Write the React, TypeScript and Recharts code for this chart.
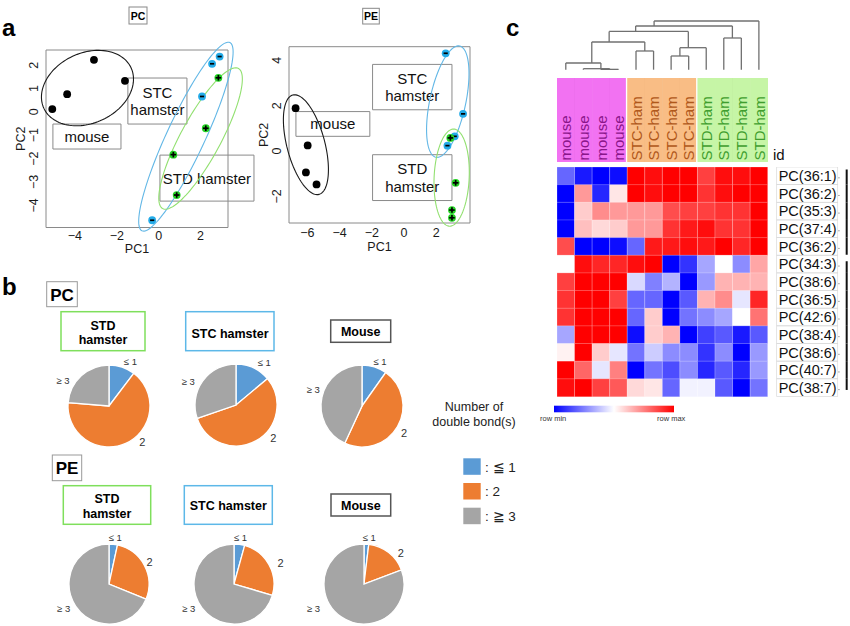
import React from 'react';
import * as RC from 'recharts';

const {
  ScatterChart, Scatter, XAxis, YAxis, ReferenceArea, ReferenceLine,
  PieChart, Pie, Cell, BarChart, Bar,
} = RC as any;

const usePlotAreaSafe: () => any = (RC as any).usePlotArea || (() => null);

const FONT = '"Liberation Sans", Arial, Helvetica, sans-serif';

// ---------------- Panel a : PCA score plots ----------------
const PC_MOUSE = [[-5.08, 0.12], [-4.37, 0.76], [-3.09, 2.23], [-1.61, 1.33]];
const PC_STC = [[2.91, 2.37], [2.55, 2.06], [2.07, 0.66], [-0.31, -4.64]];
const PC_STD = [[2.85, 1.46], [2.25, -0.7], [0.7, -1.83], [0.86, -3.56]];

const PE_MOUSE = [[-6.73, 1.89], [-5.98, 0.25], [-6.09, -0.94], [-5.43, -1.47]];
const PE_STC = [[2.59, 4.31], [3.67, 1.64], [3.15, 0.65], [2.7, 0.24]];
const PE_STD = [[2.88, 0.58], [3.21, -1.4], [2.98, -2.6], [2.98, -2.94]];

// ellipse: centre x, centre y, half-axis u (x,y), half-axis v (x,y) in data units
const PC_ELLIPSE_MOUSE = [-3.4, 1.02, 2.08, 0.87, 0.71, -1.36];
const PC_ELLIPSE_STC = [1.3, -1.06, 2.1, 4.03, 0.82, -0.35];
const PC_ELLIPSE_STD = [2.0, -1.14, 1.81, 3.0, 0.84, -0.41];
const PE_ELLIPSE_MOUSE = [-6.09, 0.28, -0.81, 2.19, 1.14, 0.21];
const PE_ELLIPSE_STC = [2.72, 2.18, 0.74, 2.45, 1.09, -0.17];
const PE_ELLIPSE_STD = [2.96, -1.17, 0.12, 2.14, 1.09, 0];

// legend boxes: x1, x2, y1, y2 (data units) and text lines
const PC_BOXES = [
  { r: [-1.47, 1.35, 1.45, -0.52], lines: ['STC', 'hamster'] },
  { r: [-5.05, -1.8, -0.52, -1.59], lines: ['mouse'] },
  { r: [0.06, 4.55, -1.85, -3.82], lines: ['STD hamster'] },
];
const PE_BOXES = [
  { r: [-1.95, 2.98, 3.82, 1.82], lines: ['STC', 'hamster'] },
  { r: [-6.71, -2.12, 1.74, 0.65], lines: ['mouse'] },
  { r: [-1.95, 2.98, -0.16, -2.18], lines: ['STD', 'hamster'] },
];

const PC_X_TICKS = [-4, -2, 0, 2];
const PC_Y_TICKS = [-4, -3, -2, -1, 0, 1, 2];
const PE_X_TICKS = [-6, -4, -2, 0, 2];
const PE_Y_TICKS = [-2, 0, 2, 4];

// ---------------- Panel b : pies ----------------
const DB_CLASSES = ['\u2264 1', '2', '\u2265 3'];
const DB_LEGEND = [': \u2266 1', ': 2', ': \u2267 3'];
const DB_COLORS = ['#5b9bd5', '#ed7d31', '#a5a5a5'];

const PC_STD_PIE = [10.3, 66.0, 23.7];
const PC_STC_PIE = [13.9, 55.8, 30.3];
const PC_MOUSE_PIE = [9.8, 47.1, 43.1];
const PE_STD_PIE = [3.4, 27.8, 68.8];
const PE_STC_PIE = [4.3, 25.3, 70.4];
const PE_MOUSE_PIE = [1.9, 17.4, 80.7];

// ---------------- Panel c : heatmap ----------------
const COL_LABELS = ['mouse', 'mouse', 'mouse', 'mouse', 'STC-ham', 'STC-ham', 'STC-ham', 'STC-ham', 'STD-ham', 'STD-ham', 'STD-ham', 'STD-ham'];
const COL_GROUPS = [0, 0, 0, 0, 1, 1, 1, 1, 2, 2, 2, 2];
const GROUP_FILL = ['#f272f2', '#f9bd85', '#c6f5a6'];
const GROUP_TEXT = ['#8a168a', '#b0581a', '#3f9e2e'];

const ROW_LABELS = ['PC(36:1)', 'PC(36:2)', 'PC(35:3)', 'PC(37:4)', 'PC(36:2)', 'PC(34:3)', 'PC(38:6)', 'PC(36:5)', 'PC(42:6)', 'PC(38:4)', 'PC(38:6)', 'PC(40:7)', 'PC(38:7)'];
const ROW_GROUPS = [0, 0, 0, 0, 0, 1, 1, 1, 1, 1, 1, 1, 1];
const HEAT_VALUES = [
  [-0.6, -0.9, -1, -0.95, 1, 0.95, 1, 1, 0.75, 0.95, 0.95, 1],
  [-1, 0.4, -0.85, 0.1, 1, 0.95, 1, 1, 0.8, 0.95, 1, 1],
  [-1, 0.2, 0.45, 0.4, 0.4, 0.4, 0.7, 0.75, 0.75, 0.8, 0.8, 1],
  [-1, 0.25, 0.15, 0.2, 0.4, 0.4, 0.8, 0.9, 0.95, 0.8, 0.8, 1],
  [0.7, -1, -1, -0.95, -0.6, 0.9, 0.9, 0.95, 0.9, 1, 0.85, 1],
  [0, 0.95, 0.85, 0.85, 0.95, 1, -1, -0.8, -0.35, 0, -0.45, 0.35],
  [0.75, 1, 1, 1, -0.15, -0.5, -0.3, -1, -0.4, 0.3, 0.3, 0.3],
  [0.8, 1, 1, 0.75, -0.6, -0.6, -1, -0.65, 0.3, 0.45, -0.1, 0.85],
  [0.8, 1, 1, 1, -0.6, 0.2, -1, -0.55, -0.45, -0.35, 0, 0.55],
  [-0.35, 1, 1, 1, -0.95, 0.2, 0.3, -1, -0.75, -0.65, -0.9, -0.65],
  [0.05, 1, 0.2, -0.1, -0.55, -0.2, -0.45, -0.45, -0.8, -0.45, -1, -0.4],
  [1, 0.6, -0.1, 0.5, -1, -0.55, -0.7, -0.45, -0.85, -0.65, -0.85, -0.4],
  [0.95, 1, 0.75, 0.65, 0.15, 0.1, -0.6, -0.05, -0.05, -0.65, -1, -0.55],
];

// dendrogram merges: kids (leaf index or node id), height, drawn x (leaf units)
const DENDRO_NODES: { id: string; kids: (number | string)[]; h: number; x: number }[] = [
  { id: 'A1', kids: [2, 3], h: 0.33, x: 2.5 },
  { id: 'A', kids: [1, 'A1'], h: 1.0, x: 2.0 },
  { id: 'B', kids: [0, 'A'], h: 6.7, x: 1.48 },
  { id: 'C', kids: [4, 5], h: 18.7, x: 4.5 },
  { id: 'D', kids: ['B', 'C'], h: 27.7, x: 2.47 },
  { id: 'E', kids: [6, 7], h: 13.7, x: 6.5 },
  { id: 'F', kids: ['E', 8], h: 22.0, x: 6.98 },
  { id: 'G', kids: ['D', 'F'], h: 38.3, x: 3.98 },
  { id: 'H', kids: [9, 10], h: 31.7, x: 9.49 },
  { id: 'I', kids: ['G', 'H'], h: 43.7, x: 5.03 },
  { id: 'J', kids: ['I', 11], h: 48.7, x: 8.0 },
];
const DENDRO_MAX = 48.7;

// ---------------- helpers ----------------
const Y_AXIS_W = 46;
const X_AXIS_H = 28;

function fmtTick(v: number) {
  return v < 0 ? '\u2212' + Math.abs(v) : String(v);
}

function heatColor(v: number) {
  const t = Math.max(-1, Math.min(1, v));
  if (t >= 0) {
    const g = Math.round(255 * (1 - t));
    return `rgb(255,${g},${g})`;
  }
  const g = Math.round(255 * (1 + t));
  return `rgb(${g},${g},255)`;
}

type Kind = 'mouse' | 'stc' | 'std';
const POINT_FILL: Record<Kind, string> = { mouse: '#000000', stc: '#23abe8', std: '#25d325' };
const ELLIPSE_STROKE: Record<Kind, string> = { mouse: '#1a1a1a', stc: '#62b7e6', std: '#92e070' };

function PointMark(props: any) {
  const { cx, cy, kind } = props;
  if (cx == null || cy == null) return null;
  const r = 3.9;
  if (kind === 'mouse') return <circle cx={cx} cy={cy} r={r} fill={POINT_FILL.mouse} />;
  if (kind === 'stc')
    return (
      <g>
        <circle cx={cx} cy={cy} r={r} fill={POINT_FILL.stc} />
        <line x1={cx - 2.1} x2={cx + 2.1} y1={cy} y2={cy} stroke="#000" strokeWidth={1.7} />
      </g>
    );
  return (
    <g>
      <circle cx={cx} cy={cy} r={r} fill={POINT_FILL.std} />
      <line x1={cx - 2.8} x2={cx + 2.8} y1={cy} y2={cy} stroke="#000" strokeWidth={1.7} />
      <line x1={cx} x2={cx} y1={cy - 2.8} y2={cy + 2.8} stroke="#000" strokeWidth={1.7} />
    </g>
  );
}

function EllipseMark(props: any) {
  const pa = usePlotAreaSafe();
  const { cx, cy, ctx, kind } = props;
  const payload = props.payload || props;
  if (cx == null || cy == null) return null;
  const pw = pa && pa.width ? pa.width : ctx.plotW;
  const ph = pa && pa.height ? pa.height : ctx.plotH;
  const sx = pw / (ctx.xDomain[1] - ctx.xDomain[0]);
  const sy = ph / (ctx.yDomain[1] - ctx.yDomain[0]);
  const { ux, uy, vx, vy } = payload;
  let d = '';
  for (let i = 0; i <= 120; i++) {
    const t = (i / 120) * Math.PI * 2;
    const c = Math.cos(t);
    const s = Math.sin(t);
    const px = cx + sx * (ux * c + vx * s);
    const py = cy - sy * (uy * c + vy * s);
    d += (i === 0 ? 'M' : 'L') + px.toFixed(2) + ',' + py.toFixed(2);
  }
  return <path d={d + 'Z'} fill="none" stroke={ELLIPSE_STROKE[kind as Kind]} strokeWidth={1.1} />;
}

type PcaCfg = {
  width: number;
  height: number;
  margin: { top: number; right: number; bottom: number; left: number };
  xDomain: number[];
  yDomain: number[];
  xTicks: number[];
  yTicks: number[];
  xTickDy: number;
  xLabelDy: number;
  groups: { kind: Kind; pts: number[][]; ell: number[] }[];
  boxes: { r: number[]; lines: string[] }[];
};

const PC_CFG: PcaCfg = {
  width: 262,
  height: 264.5,
  margin: { top: 50, right: 34, bottom: 9, left: 0 },
  xDomain: [-5.38, 3.31],
  yDomain: [-4.95, 2.65],
  xTicks: PC_X_TICKS,
  yTicks: PC_Y_TICKS,
  xTickDy: 8.5,
  xLabelDy: 21.5,
  groups: [
    { kind: 'mouse', pts: PC_MOUSE, ell: PC_ELLIPSE_MOUSE },
    { kind: 'stc', pts: PC_STC, ell: PC_ELLIPSE_STC },
    { kind: 'std', pts: PC_STD, ell: PC_ELLIPSE_STD },
  ],
  boxes: PC_BOXES,
};

const PE_CFG: PcaCfg = {
  width: 237,
  height: 261,
  margin: { top: 46.7, right: 10, bottom: 10, left: 0 },
  xDomain: [-7.14, 4.1],
  yDomain: [-3.17, 4.6],
  xTicks: PE_X_TICKS,
  yTicks: PE_Y_TICKS,
  xTickDy: 10,
  xLabelDy: 23.7,
  groups: [
    { kind: 'mouse', pts: PE_MOUSE, ell: PE_ELLIPSE_MOUSE },
    { kind: 'stc', pts: PE_STC, ell: PE_ELLIPSE_STC },
    { kind: 'std', pts: PE_STD, ell: PE_ELLIPSE_STD },
  ],
  boxes: PE_BOXES,
};

function frameLabel(p: any, cfg: PcaCfg) {
  const vb = p.viewBox || p;
  const cxm = vb.x + vb.width / 2;
  const cym = vb.y + vb.height / 2;
  return (
    <g>
      <text x={cxm} y={vb.y + vb.height + cfg.xLabelDy} dy="0.35em" textAnchor="middle" fontSize={12.5} fill="#1a1a1a">
        PC1
      </text>
      <text transform={`translate(${vb.x - 25},${cym}) rotate(-90)`} dy="0.35em" textAnchor="middle" fontSize={12.5} fill="#1a1a1a">
        PC2
      </text>
    </g>
  );
}

function boxLabel(p: any, lines: string[]) {
  const vb = p.viewBox || p;
  const cxm = vb.x + vb.width / 2;
  const cym = vb.y + vb.height / 2;
  const lh = 17.4;
  return (
    <text textAnchor="middle" fontSize={15} fill="#111">
      {lines.map((ln, i) => (
        <tspan key={i} x={cxm} y={cym + (i - (lines.length - 1) / 2) * lh + 5.5}>
          {ln}
        </tspan>
      ))}
    </text>
  );
}

function PcaChart({ cfg }: { cfg: PcaCfg }) {
  const plotW = cfg.width - cfg.margin.left - cfg.margin.right - Y_AXIS_W;
  const plotH = cfg.height - cfg.margin.top - cfg.margin.bottom - X_AXIS_H;
  const ctx = { ...cfg, plotW, plotH };
  return (
    <ScatterChart width={cfg.width} height={cfg.height} margin={cfg.margin}>
      <XAxis
        type="number"
        dataKey="x"
        domain={cfg.xDomain}
        ticks={cfg.xTicks}
        interval={0}
        height={X_AXIS_H}
        axisLine={false}
        tickLine={false}
        tickSize={0}
        tickMargin={0}
        tick={(p: any) => (
          <text x={p.x} y={p.y + cfg.xTickDy} dy="0.35em" textAnchor="middle" fontSize={12.5} fill="#1a1a1a">
            {fmtTick(p.payload.value)}
          </text>
        )}
      />
      <YAxis
        type="number"
        dataKey="y"
        domain={cfg.yDomain}
        ticks={cfg.yTicks}
        interval={0}
        width={Y_AXIS_W}
        axisLine={false}
        tickLine={false}
        tickSize={0}
        tickMargin={0}
        tick={(p: any) => (
          <text transform={`translate(${p.x - 12},${p.y}) rotate(-90)`} dy="0.35em" textAnchor="middle" fontSize={12.5} fill="#1a1a1a">
            {fmtTick(p.payload.value)}
          </text>
        )}
      />
      <ReferenceArea
        x1={cfg.xDomain[0]}
        x2={cfg.xDomain[1]}
        y1={cfg.yDomain[0]}
        y2={cfg.yDomain[1]}
        ifOverflow="visible"
        fill="#ffffff"
        fillOpacity={0}
        stroke="#8a8a8a"
        strokeWidth={1}
        strokeOpacity={1}
        label={(p: any) => frameLabel(p, cfg)}
      />
      {cfg.boxes.map((b, i) => (
        <ReferenceArea
          key={'box' + i}
          x1={b.r[0]}
          x2={b.r[1]}
          y1={b.r[2]}
          y2={b.r[3]}
          ifOverflow="visible"
          fill="#ffffff"
          fillOpacity={0}
          stroke="#8a8a8a"
          strokeWidth={1}
          strokeOpacity={1}
          label={(p: any) => boxLabel(p, b.lines)}
        />
      ))}
      {cfg.groups.map((g) => (
        <Scatter
          key={'ell' + g.kind}
          data={[{ x: g.ell[0], y: g.ell[1], ux: g.ell[2], uy: g.ell[3], vx: g.ell[4], vy: g.ell[5] }]}
          isAnimationActive={false}
          shape={(p: any) => <EllipseMark {...p} ctx={ctx} kind={g.kind} />}
        />
      ))}
      {cfg.groups.map((g) => (
        <Scatter
          key={'pts' + g.kind}
          data={g.pts.map(([x, y]) => ({ x, y }))}
          isAnimationActive={false}
          shape={(p: any) => <PointMark {...p} kind={g.kind} />}
        />
      ))}
    </ScatterChart>
  );
}

// ---------------- pies ----------------
// la: label direction (degrees clockwise from 12 o'clock), ld: label distance from centre
function makePieLabel(la: number[], ld: number[]) {
  return (p: any) => {
    const i = p.index;
    const a = la[i] * (Math.PI / 180);
    const label = DB_CLASSES[i];
    return (
      <text
        x={p.cx + ld[i] * Math.sin(a)}
        y={p.cy - ld[i] * Math.cos(a)}
        dy="0.35em"
        textAnchor="middle"
        fontSize={label.length > 1 ? 9.5 : 11}
        fill="#333"
      >
        {label}
      </text>
    );
  };
}

function PieBlock({ values, cx, cy, r, la, ld }: { values: number[]; cx: number; cy: number; r: number; la: number[]; ld: number[] }) {
  const data = values.map((v, i) => ({ name: DB_CLASSES[i], v }));
  return (
    <div style={{ position: 'absolute', left: cx - 70, top: cy - 65 }}>
      <PieChart width={140} height={130} margin={{ top: 0, right: 0, bottom: 0, left: 0 }}>
        <Pie
          data={data}
          dataKey="v"
          nameKey="name"
          cx={70}
          cy={65}
          outerRadius={r}
          innerRadius={0}
          startAngle={90}
          endAngle={-270}
          stroke="#ffffff"
          strokeWidth={1.3}
          label={makePieLabel(la, ld)}
          labelLine={false}
          isAnimationActive={false}
        >
          {data.map((_, i) => (
            <Cell key={i} fill={DB_COLORS[i]} />
          ))}
        </Pie>
      </PieChart>
    </div>
  );
}

const PIES = [
  { values: PC_STD_PIE, cx: 109.3, cy: 406, r: 41, la: [25.8, 137, 298.8], ld: [49.2, 48.9, 52.5] },
  { values: PC_STC_PIE, cx: 236, cy: 404.5, r: 41, la: [33.5, 131.3, 296.5], ld: [51.3, 49.7, 53.3] },
  { values: PC_MOUSE_PIE, cx: 362, cy: 405.5, r: 41, la: [22.3, 122.9, 288.4], ld: [47.4, 50, 51.3] },
  { values: PE_STD_PIE, cx: 108.7, cy: 584, r: 40, la: [7.7, 61.2, 241.8], ld: [47.1, 46.3, 51.5] },
  { values: PE_STC_PIE, cx: 234.2, cy: 584, r: 40, la: [7.9, 66, 241.7], ld: [47.2, 50.9, 51.3] },
  { values: PE_MOUSE_PIE, cx: 363.8, cy: 584, r: 40, la: [6.4, 50.2, 244.3], ld: [47, 48, 56] },
];

// ---------------- heatmap parts ----------------
const HM_PLOT_W = 210.7;
const HM_ROW_H = 17.65;

function Dendrogram() {
  const nodeMap: Record<string, { x: number; h: number }> = {};
  DENDRO_NODES.forEach((n) => (nodeMap[n.id] = { x: n.x, h: n.h }));
  const pos = (k: number | string) => (typeof k === 'number' ? { x: k, h: 0 } : nodeMap[k]);
  const segs: { x1: number; y1: number; x2: number; y2: number }[] = [];
  DENDRO_NODES.forEach((n) => {
    const a = pos(n.kids[0]);
    const b = pos(n.kids[1]);
    segs.push({ x1: a.x, y1: n.h, x2: b.x, y2: n.h });
    segs.push({ x1: a.x, y1: a.h, x2: a.x, y2: n.h });
    segs.push({ x1: b.x, y1: b.h, x2: b.x, y2: n.h });
  });
  const leaves = COL_LABELS.map((_, i) => ({ x: i, y: 0 }));
  return (
    <ScatterChart width={HM_PLOT_W} height={DENDRO_MAX + 3} margin={{ top: 2, right: 0, bottom: 1, left: 0 }}>
      <XAxis type="number" dataKey="x" domain={[-0.5, COL_LABELS.length - 0.5]} hide />
      <YAxis type="number" dataKey="y" domain={[0, DENDRO_MAX]} hide />
      <Scatter data={leaves} isAnimationActive={false} shape={() => <g />} />
      {segs.map((s, i) => (
        <ReferenceLine
          key={i}
          segment={[{ x: s.x1, y: s.y1 }, { x: s.x2, y: s.y2 }]}
          stroke="#707070"
          strokeWidth={1.3}
          ifOverflow="visible"
        />
      ))}
    </ScatterChart>
  );
}

function HeaderBand() {
  const data = COL_LABELS.map((lab, i) => ({ id: 'h' + i, v: 1, g: COL_GROUPS[i] }));
  return (
    <BarChart width={HM_PLOT_W} height={84} data={data} margin={{ top: 0, right: 0, bottom: 0, left: 0 }} barCategoryGap={0}>
      <XAxis dataKey="id" hide />
      <YAxis type="number" domain={[0, 1]} hide />
      <Bar
        dataKey="v"
        isAnimationActive={false}
        shape={(p: any) => {
          const i = p.index;
          const g = COL_GROUPS[i];
          const nextG = COL_GROUPS[i + 1];
          const gap = nextG !== undefined && nextG !== g ? 1.8 : 0;
          const tx = p.x + p.width / 2;
          const ty = p.y + p.height - 1.5;
          return (
            <g>
              <rect x={p.x} y={p.y} width={p.width - gap} height={p.height} fill={GROUP_FILL[g]} />
              {gap === 0 && nextG !== undefined ? (
                <line x1={p.x + p.width} x2={p.x + p.width} y1={p.y} y2={p.y + p.height} stroke="#000" strokeOpacity={0.06} strokeWidth={1} />
              ) : null}
              <text transform={`translate(${tx},${ty}) rotate(-90)`} dy="0.36em" textAnchor="start" fontSize={15} fill={GROUP_TEXT[g]}>
                {COL_LABELS[i]}
              </text>
            </g>
          );
        }}
      />
    </BarChart>
  );
}

function RowTick(p: any) {
  const idx = Number(String(p.payload.value).slice(1));
  const { x, y } = p;
  const h = HM_ROW_H;
  const g = ROW_GROUPS[idx];
  const first = idx === 0 || ROW_GROUPS[idx - 1] !== g;
  const last = idx === ROW_GROUPS.length - 1 || ROW_GROUPS[idx + 1] !== g;
  const top = first ? y - h / 2 + (idx === 0 ? 2.5 : 6) : y - h / 2;
  const bot = last ? y + h / 2 - (idx === ROW_GROUPS.length - 1 ? 6.5 : 0.5) : y + h / 2;
  return (
    <g>
      <rect x={x + 9} y={y - h / 2} width={61} height={h} fill="none" stroke="#d9d9d9" strokeWidth={0.7} />
      <text x={x + 11} y={y} dy="0.36em" fontSize={14.5} fill="#111">
        {ROW_LABELS[idx]}
      </text>
      <line x1={x + 70.5} x2={x + 72} y1={y + 2} y2={y + 2} stroke="#999" strokeWidth={1} />
      <line x1={x + 79} x2={x + 79} y1={top} y2={bot} stroke="#111" strokeWidth={2} />
    </g>
  );
}

function Heatmap() {
  const data = ROW_LABELS.map((_, r) => {
    const o: any = { id: 'r' + r };
    COL_LABELS.forEach((__, c) => (o['c' + c] = 1));
    return o;
  });
  return (
    <BarChart
      width={HM_PLOT_W + 82}
      height={HM_ROW_H * ROW_LABELS.length}
      data={data}
      layout="vertical"
      margin={{ top: 0, right: 0, bottom: 0, left: 0 }}
      barCategoryGap={0}
      barGap={0}
    >
      <XAxis type="number" domain={[0, COL_LABELS.length]} hide />
      <YAxis
        type="category"
        dataKey="id"
        orientation="right"
        width={82}
        axisLine={false}
        tickLine={false}
        tickSize={0}
        tickMargin={0}
        interval={0}
        tick={(p: any) => <RowTick {...p} />}
      />
      {COL_LABELS.map((_, c) => (
        <Bar key={c} dataKey={'c' + c} stackId="heat" isAnimationActive={false} stroke="#ffffff" strokeOpacity={0.35} strokeWidth={0.6}>
          {HEAT_VALUES.map((row, r) => (
            <Cell key={r} fill={heatColor(row[c])} />
          ))}
        </Bar>
      ))}
    </BarChart>
  );
}

// ---------------- static text / frames ----------------
function StaticLayer() {
  const boxStroke = { std: '#7fdf5c', stc: '#5db8e8', mouse: '#555555' };
  return (
    <svg width={850} height={626} style={{ position: 'absolute', left: 0, top: 0 }} fontFamily={FONT}>
      <defs>
        <linearGradient id="rowgrad" x1="0" x2="1" y1="0" y2="0">
          <stop offset="0" stopColor="#0000ff" />
          <stop offset="0.5" stopColor="#ffffff" />
          <stop offset="1" stopColor="#ff0000" />
        </linearGradient>
      </defs>
      {/* panel letters */}
      <text x={2} y={36} fontSize={24} fontWeight="bold" fill="#000">a</text>
      <text x={2} y={295} fontSize={24} fontWeight="bold" fill="#000">b</text>
      <text x={506} y={35.5} fontSize={24} fontWeight="bold" fill="#000">c</text>

      {/* panel a titles */}
      <rect x={129} y={7} width={18} height={17} fill="none" stroke="#888" strokeWidth={1} />
      <text x={138} y={19.5} textAnchor="middle" fontSize={10.5} fontWeight="bold">PC</text>
      <rect x={362.7} y={8.3} width={16.6} height={15.7} fill="none" stroke="#888" strokeWidth={1} />
      <text x={371} y={20} textAnchor="middle" fontSize={10.5} fontWeight="bold">PE</text>

      {/* panel b titles */}
      <rect x={46.7} y={281.7} width={30.6} height={25} fill="none" stroke="#999" strokeWidth={1} />
      <text x={62} y={300.5} textAnchor="middle" fontSize={17} fontWeight="bold">PC</text>
      <rect x={52.3} y={455} width={29.4} height={25.7} fill="none" stroke="#999" strokeWidth={1} />
      <text x={67} y={474} textAnchor="middle" fontSize={17} fontWeight="bold">PE</text>

      {/* group boxes row 1 */}
      <rect x={61} y={311.7} width={84} height={39} fill="none" stroke={boxStroke.std} strokeWidth={1.5} />
      <text x={103} y={330} textAnchor="middle" fontSize={12.5} fontWeight="bold">STD</text>
      <text x={103} y={344} textAnchor="middle" fontSize={12.5} fontWeight="bold">hamster</text>
      <rect x={185.7} y={311.7} width={88.3} height={39} fill="none" stroke={boxStroke.stc} strokeWidth={1.5} />
      <text x={230} y={338} textAnchor="middle" fontSize={12.5} fontWeight="bold">STC hamster</text>
      <rect x={330.7} y={320} width={60} height={22.3} fill="none" stroke={boxStroke.mouse} strokeWidth={1.5} />
      <text x={360.7} y={335.5} textAnchor="middle" fontSize={12.5} fontWeight="bold">Mouse</text>

      {/* group boxes row 2 */}
      <rect x={63.3} y={485.7} width={87.4} height={38.6} fill="none" stroke={boxStroke.std} strokeWidth={1.5} />
      <text x={107} y={503.3} textAnchor="middle" fontSize={12.5} fontWeight="bold">STD</text>
      <text x={107} y={517.5} textAnchor="middle" fontSize={12.5} fontWeight="bold">hamster</text>
      <rect x={184.3} y={485.7} width={88} height={38.6} fill="none" stroke={boxStroke.stc} strokeWidth={1.5} />
      <text x={228.3} y={510} textAnchor="middle" fontSize={12.5} fontWeight="bold">STC hamster</text>
      <rect x={331} y={494} width={59.7} height={22} fill="none" stroke={boxStroke.mouse} strokeWidth={1.5} />
      <text x={360.8} y={509.5} textAnchor="middle" fontSize={12.5} fontWeight="bold">Mouse</text>

      {/* legend */}
      <text x={474} y={411} textAnchor="middle" fontSize={12.5} fill="#222">Number of</text>
      <text x={474} y={426} textAnchor="middle" fontSize={12.5} fill="#222">double bond(s)</text>
      {DB_LEGEND.map((lab, i) => (
        <g key={i}>
          <rect x={463.3} y={458.3 + i * 24.7} width={17.4} height={16.5} fill={DB_COLORS[i]} />
          <text x={485} y={458.3 + i * 24.7 + 13.3} fontSize={13.5} fill="#222">{lab}</text>
        </g>
      ))}

      {/* heatmap extras */}
      <text x={773} y={159.5} fontSize={15} fill="#111">id</text>
      <rect x={554} y={405.7} width={120} height={6.6} fill="url(#rowgrad)" />
      <text x={540} y={421} fontSize={7.5} fill="#333">row min</text>
      <text x={657} y={421} fontSize={7.5} fill="#333">row max</text>
    </svg>
  );
}

export default function App() {
  return (
    <div
      style={{
        position: 'absolute',
        left: 0,
        top: 0,
        width: 850,
        height: 626,
        overflow: 'hidden',
        background: '#ffffff',
        fontFamily: FONT,
      }}
    >
      <StaticLayer />
      <div style={{ position: 'absolute', left: 0, top: 0 }}>
        <PcaChart cfg={PC_CFG} />
      </div>
      <div style={{ position: 'absolute', left: 243, top: 0 }}>
        <PcaChart cfg={PE_CFG} />
      </div>
      <div style={{ position: 'absolute', left: 557.3, top: 18.6 }}>
        <Dendrogram />
      </div>
      <div style={{ position: 'absolute', left: 557.3, top: 78.3 }}>
        <HeaderBand />
      </div>
      <div style={{ position: 'absolute', left: 557.3, top: 167.3 }}>
        <Heatmap />
      </div>
      {PIES.map((p, i) => (
        <PieBlock key={i} values={p.values} cx={p.cx} cy={p.cy} r={p.r} la={p.la} ld={p.ld} />
      ))}
    </div>
  );
}
